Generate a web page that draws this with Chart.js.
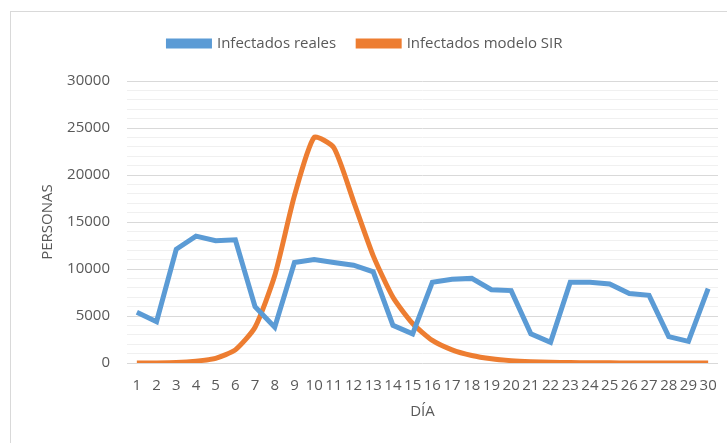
<!DOCTYPE html>
<html>
<head>
<meta charset="utf-8">
<script src="https://cdn.jsdelivr.net/npm/chart.js@4.4.0/dist/chart.umd.min.js"></script>
<style>
  body { margin: 0; background: #fff; }
  #frame { position: absolute; left: 10px; top: 11px; width: 730px; height: 440px; border: 1px solid #d9d9d9; }
  #wrap { position: absolute; left: 0; top: 0; width: 727px; height: 443px; }
</style>
</head>
<body>
<div id="frame"></div>
<div id="wrap"><canvas id="chart"></canvas></div>
<script>
// Days
const dias = ['1','2','3','4','5','6','7','8','9','10','11','12','13','14','15',
              '16','17','18','19','20','21','22','23','24','25','26','27','28','29','30'];

// Infectados reales
const infectadosReales = [5400, 4400, 12100, 13500, 13000, 13100, 6000, 3800, 10700, 11000,
                          10700, 10400, 9700, 4000, 3100, 8600, 8900, 9000, 7800, 7700,
                          3100, 2200, 8600, 8600, 8400, 7400, 7200, 2800, 2300, 7900];

// Infectados modelo SIR
const infectadosSIR = [0, 10, 50, 200, 500, 1400, 3800, 9300, 17800, 24000,
                       22900, 17200, 11400, 7000, 4200, 2400, 1400, 800, 450, 250,
                       140, 80, 45, 25, 14, 8, 4, 2, 1, 1];

const textColor = '#595959';
const font = { family: 'Open Sans', size: 15 };

// more room under the legend, and legend shifted a bit left like the original
const legendTweak = {
    id: 'legendTweak',
    beforeInit(chart) {
        const legend = chart.legend;
        const fit = legend.fit;
        legend.fit = function () {
            fit.call(this);
            this.height += 20;
        };
        const draw = legend.draw;
        legend.draw = function () {
            chart.ctx.save();
            chart.ctx.translate(-11, 0);
            draw.call(this);
            chart.ctx.restore();
        };
    }
};

new Chart('chart', {
    type: 'line',
    data: {
        labels: dias,
        datasets: [
            {
                label: 'Infectados reales',
                data: infectadosReales,
                borderColor: '#5B9BD5',
                backgroundColor: '#5B9BD5',
                borderWidth: 5,
                pointRadius: 0,
                tension: 0
            },
            {
                label: 'Infectados modelo SIR',
                data: infectadosSIR,
                borderColor: '#ED7D31',
                backgroundColor: '#ED7D31',
                borderWidth: 5,
                pointRadius: 0,
                tension: 0.2
            }
        ]
    },
    options: {
        responsive: true,
        maintainAspectRatio: false,
        animation: false,
        layout: { padding: { left: 35, right: 9, top: 14, bottom: 18 } },
        plugins: {
            legend: {
                position: 'top',
                labels: {
                    color: textColor,
                    font: font,
                    boxWidth: 41,
                    boxHeight: 5,
                    padding: 22
                }
            },
            tooltip: { enabled: false }
        },
        scales: {
            x: {
                offset: true,
                grid: { display: false },
                border: { display: false },
                ticks: { color: textColor, font: font, autoSkip: false, maxRotation: 0, padding: 6 },
                title: { display: true, text: 'DÍA', color: textColor, font: font, padding: { top: 2 } }
            },
            y: {
                min: 0,
                max: 30000,
                border: { display: false },
                afterFit: scale => { scale.width = 92; },
                grid: {
                    color: ctx => (ctx.tick.value % 5000 === 0 ? '#d9d9d9' : '#f0f0f0'),
                    drawTicks: false
                },
                ticks: {
                    stepSize: 1000,
                    color: textColor,
                    font: font,
                    padding: 17,
                    autoSkip: false,
                    callback: v => (v % 5000 === 0 ? v : '')
                },
                title: { display: true, text: 'PERSONAS', color: textColor, font: font, padding: { top: 4, bottom: 4 } }
            }
        }
    },
    plugins: [legendTweak]
});
</script>
</body>
</html>
